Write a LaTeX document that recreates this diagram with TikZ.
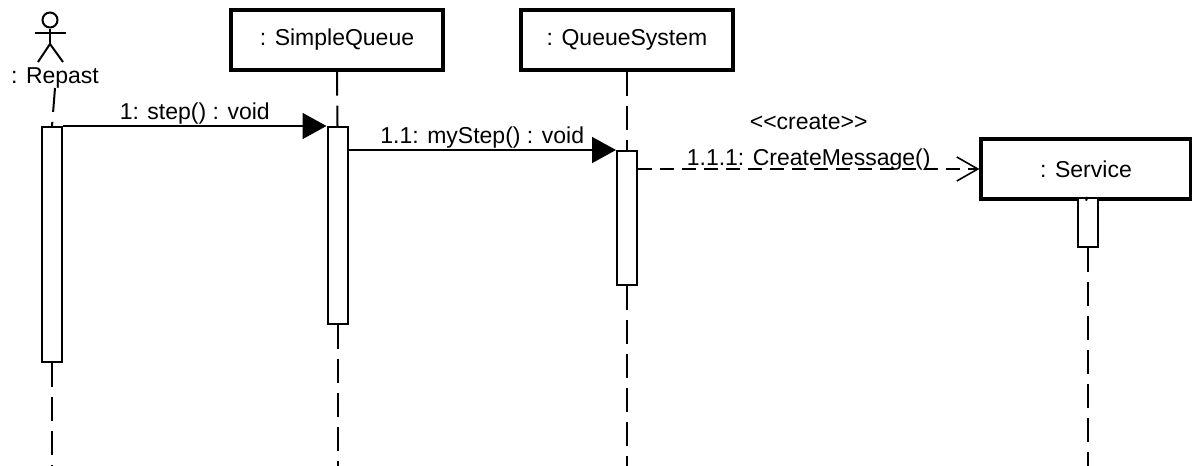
\documentclass[tikz,border=0pt]{standalone}
\usepackage{fontspec}
\setmainfont{Liberation Sans}[Ligatures=TeXOff]
\usetikzlibrary{positioning,arrows.meta}

\tikzset{
  txt/.style={inner sep=0pt, font=\fontsize{23}{25}\selectfont},
  obj/.style={txt, draw, line width=3.2pt, minimum width=212pt, minimum height=60pt},
  act/.style={draw, fill=white, line width=2pt, minimum width=20pt, inner sep=0pt},
  life/.style={line width=2pt, dash pattern=on 24pt off 10pt},
  call/.style={line width=1.6pt, -{Triangle[length=24pt,width=26pt]}},
  make/.style={line width=1.6pt, dash pattern=on 14pt off 8pt,
    -{Straight Barb[length=21pt,width=24pt,line width=1.6pt]}}
}

\begin{document}
\begin{tikzpicture}[x=1pt,y=-1pt]
  \useasboundingbox (0,0) rectangle (1192,466);

  % actor
  \node[draw, circle, line width=2pt, minimum size=15pt, inner sep=0pt] (head) at (50,20) {};
  \coordinate (hip) at (50,44);
  \draw[line width=2pt] (head.south) -- (hip);
  \draw[line width=2pt] (35,33) -- (66,33);
  \draw[line width=2pt] (38,62) -- (hip) -- (63,62);
  \node[txt, anchor=base] (rep) at (55,83) {: Repast};

  \node[obj] (sq) at (337,40) {: SimpleQueue};
  \node[obj] (qs) at (627,40) {: QueueSystem};
  \node[obj, minimum width=210pt] (sv) at (1086,169) {: Service};

  \node[act, minimum height=235pt] (a1) at (52,244.5) {};
  \node[act, minimum height=197pt] (a2) at (337.5,225.5) {};
  \node[act, minimum height=134pt] (a3) at (627,218) {};
  \node[act, minimum height=49pt] (a4) at (1087.5,222.5) {};

  \coordinate (e1) at (52,466);
  \coordinate (e2) at (337.5,466);
  \coordinate (e3) at (627,466);
  \coordinate (e4) at (1087.5,466);

  \draw[life] (rep.south) -- (a1.north);
  \draw[life] (a1.south) -- (e1);
  \draw[life] (sq.south) -- (a2.north);
  \draw[life] (a2.south) -- (e2);
  \draw[life] (qs.south) -- (a3.north);
  \draw[life] (a3.south) -- (e3);
  \draw[life] (a4.south) -- (e4);
  \draw[line width=2pt] (sv.south) -- (a4.north);

  \draw[call] (a1.north east) -- (a2.north west)
    node[txt, midway, anchor=base, yshift=7pt] {1: step() : void};
  \draw[call] (a3.north west -| a2.east) -- (a3.north west)
    node[txt, midway, anchor=base, yshift=7pt] {1.1: myStep() : void};
  \draw[make] (sv.west -| a3.east) -- (sv.west)
    node[txt, midway, anchor=base, yshift=4pt] {1.1.1: CreateMessage()}
    node[txt, midway, anchor=base, yshift=40pt] {<<create>>};
\end{tikzpicture}
\end{document}
